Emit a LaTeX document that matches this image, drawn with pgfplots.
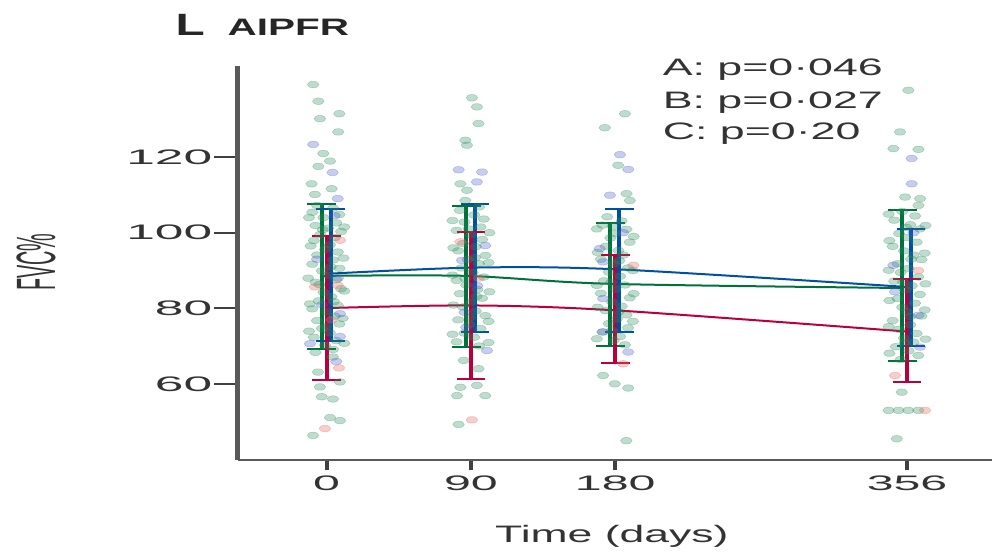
\documentclass[border=0pt]{standalone}
\usepackage{pgfplots}
\pgfplotsset{compat=1.18}
\usepackage{fontspec}
\setmainfont{Liberation Sans}
\definecolor{grn}{RGB}{0,112,60}
\definecolor{blu}{RGB}{0,80,160}
\definecolor{rd}{RGB}{185,0,60}
\definecolor{dotgrn}{RGB}{40,140,90}
\definecolor{dotblu}{RGB}{70,90,200}
\definecolor{dotred}{RGB}{230,110,100}
\pgfplotstableread{
x y
-8.4 139.1
-5.2 134.7
-4.2 130.1
7.9 131.4
7.2 126.6
-2.1 120.9
2.1 118.9
-5.2 117.5
-9.4 112.9
3.1 111.6
-7.3 110.1
-6 107.2
4 106.5
-9 105.4
8 104.8
-2 104
6 102.6
-7 101.9
1 101.2
9 100.3
-4 99.5
5 98.7
-8 97.9
2 96.8
-1 95.6
7 94.9
-6 94.1
4 92.8
-9 91.7
8 90.6
-3 89.9
1 88.8
6 87.6
-7 86.9
9 85.2
-2 84.3
3 83.1
-5 82.0
7 80.8
-9 79.9
0 79.1
5 78.0
-6 76.8
8 75.9
-3 74.7
2 73.6
-8 72.4
6 71.5
-1 70.3
4 69.2
-7 68.4
-11 104.0
11 101.5
-10 96.5
10.5 93.3
-11.5 88.0
11 84.6
-10.5 81.2
10 77.4
-11 74.0
11 70.8
-2.5 100.8
2.5 91.0
-4.5 86.3
4.5 81.8
-0.5 75.3
3.9 67.2
-5.4 63.2
8.3 60.6
-4.2 59.3
-3.1 56.7
3.9 56.1
2.1 51.2
8.3 50.4
-8.5 46.5
90.6 135.6
93.7 133.2
94.7 128.8
86.5 124.4
87.5 123.1
83.4 112.9
87.5 111.2
86.5 108.5
95 106.8
83 105.9
92 104.7
98 103.6
86 102.8
96 101.5
81 100.6
90 99.4
97 98.2
85 97.1
93 96.3
82 95.2
99 94.0
88 92.9
95 91.8
84 90.7
91 89.5
98 88.3
81 87.4
87 86.2
94 85.0
83 83.9
97 82.7
90 81.6
85 80.4
93 79.3
99 78.1
82 77.0
89 75.8
96 74.7
86 73.5
92 72.4
81 71.2
95 70.1
78.5 103.2
101.5 100.0
79 96.0
101 92.1
78.5 88.8
101.5 84.4
79 80.9
101 76.6
78.5 73.2
101 71.0
88.5 101.0
92.5 93.4
86.5 87.9
93.5 83.2
89.5 77.6
85.5 66.3
94.7 64.1
83.4 59.2
93.7 59.7
98.9 57.0
81.3 57.0
82.3 49.4
186 131.4
173.5 127.7
181.8 117.8
187 110.3
189.1 108.5
175 104.2
184 103.1
172 102.0
187 100.9
180 99.8
177 98.6
189 97.5
174 96.4
182 95.3
185 94.1
171 93.0
179 91.8
188 90.7
176 89.6
183 88.5
173 87.3
186 86.2
180 85.1
171 84.0
189 82.8
178 81.7
184 80.6
174 79.4
187 78.3
181 77.2
176 76.0
188 74.9
172 73.8
183 72.6
179 71.5
186 70.4
168.5 101.0
191.5 99.0
169 94.8
191 90.0
168.5 86.1
191.5 83.9
169 80.3
191 76.6
168.5 72.0
178.5 101.6
182.5 92.6
177.5 86.9
182 79.1
178 74.2
172.4 62.3
179.7 60.1
188.1 59.0
186.9 45.1
362.8 137.6
357.6 126.6
353.5 122.2
369.1 122.0
360.8 109.4
370.1 109.0
369.1 107.2
359 105.6
367 104.4
354 103.3
364 102.1
370 101.0
357 99.8
362 98.7
368 97.5
353 96.4
360 95.2
366 94.1
371 92.9
356 91.8
363 90.6
358 89.5
369 88.3
354 87.2
365 86.0
361 84.9
370 83.7
356 82.6
367 81.4
359 80.3
362 79.1
371 78.0
353 76.8
364 75.7
357 74.5
368 73.4
360 72.2
366 71.1
355 69.9
363 68.8
369 67.6
358 66.5
350.5 104.9
373.5 101.9
351 97.9
373 94.6
350.5 90.1
373.5 86.5
351 82.1
373 79.6
350.5 75.2
373.5 71.9
351 68.2
361.5 101.4
364.5 93.0
359.5 87.0
364 77.9
360.5 70.9
358.7 57.9
350.5 53.1
356.7 53.1
362.8 53.1
369 53.1
355.6 45.6
}\dotsgreen
\pgfplotstableread{
x y
-8.4 123.3
3.7 115.9
6.9 109
5 104.5
-6 93
7 88
-3 81
8.3 78.6
8.3 72.6
-10.4 70.7
6 66
82.3 116.6
96.9 116.0
93.7 113.4
98.9 96.6
84.4 92.7
94 86
86 79
100 68.9
87 75
182.9 120.6
188.1 116.7
176.7 109.9
170.3 95.8
172.4 92.3
172.4 82.6
172.4 73.8
188.1 68.5
185 100
364.9 119.6
364.9 112.9
353.5 91.4
369.1 78.2
370.1 69.8
354.5 84.4
366 100
}\dotsblue
\pgfplotstableread{
x y
8.3 98
-7.3 85.7
7 86.1
7.7 64.3
-1.1 48.3
3 77
83.4 97.6
90.6 50.6
95 88
191.3 91.4
184.9 65.4
369 90.0
354.5 62.3
373.2 53.1
}\dotsred
\pgfplotstableread{
x y ep em
-3 88.6 18.9 19.4
87 88.6 18.5 18.9
177 86.5 16.1 16.3
359 85.4 20.5 19.4
}\meangreen
\pgfplotstableread{
x y ep em
0 80.1 18.9 19.1
90 80.8 19.3 19.4
180 79.5 14.5 13.9
362 73.9 13.8 13.3
}\meanred
\pgfplotstableread{
x y ep em
2.5 89.2 17.1 17.9
92.5 90.8 16.7 16.9
182.5 90.3 16.0 16.4
364.5 85.6 15.5 15.4
}\meanblue
\begin{document}
\begin{tikzpicture}
\begin{axis}[
  at={(0,0)}, anchor=south west,
  scale only axis, width=376.85pt, height=197pt,
  xmin=-55.3, xmax=414.8, ymin=40, ymax=144,
  axis lines=left,
  axis line style={-, draw=black!65},
  x axis line style={line width=1.2pt},
  y axis line style={line width=2.5pt},
  xtick={0,90,180,362}, xticklabels={0,90,180,356},
  ytick={60,80,100,120},
  tick align=outside,
  xtick style={line width=2pt, draw=black!75, /pgfplots/major tick length=5pt},
  ytick style={line width=1pt, draw=black!75, /pgfplots/major tick length=12pt},
  /pgf/number format/assume math mode=true,
  tick label style={font=\fontsize{10.5}{12}\selectfont, text=black!80},
  xticklabel style={xscale=2.3},
  yticklabel style={xscale=2.45},
  xlabel={Time (days)},
  xlabel style={at={(axis description cs:0.496,-0.193)}, anchor=center,
    font=\fontsize{11.9}{14}\selectfont, text=black!80, xscale=1.87},
  ylabel={FVC\%},
  ylabel style={at={(axis description cs:-0.268,0.5025)}, anchor=center,
    font=\fontsize{9.9}{12}\selectfont, text=black!80, rotate=-90, xscale=2.8, rotate=90},
]
\addplot[only marks, mark=*, mark size=1.65pt,
  mark options={draw=dotgrn, fill=dotgrn, opacity=0.3, line width=0.3pt, xscale=1.75}]
  table[x=x,y=y] {\dotsgreen};
\addplot[only marks, mark=*, mark size=1.65pt,
  mark options={draw=dotblu, fill=dotblu, opacity=0.3, line width=0.3pt, xscale=1.75}]
  table[x=x,y=y] {\dotsblue};
\addplot[only marks, mark=*, mark size=1.65pt,
  mark options={draw=dotred, fill=dotred, opacity=0.34, line width=0.3pt, xscale=1.75}]
  table[x=x,y=y] {\dotsred};
% smooth mean curves
\addplot[color=grn, smooth, line width=1pt, mark=none] table[x=x, y=y] {\meangreen};
\addplot[color=blu, smooth, line width=1pt, mark=none] table[x=x, y=y] {\meanblue};
\addplot[color=rd, smooth, line width=1pt, mark=none] table[x=x, y=y] {\meanred};
% error bars
\addplot[color=grn, only marks, mark=*, mark size=0.1pt,
  error bars/.cd, y dir=both, y explicit,
  error bar style={line width=2pt, draw=grn},
  error mark options={rotate=90, line width=1pt, mark size=7.2pt, draw=grn}]
  table[x=x, y=y, y error plus=ep, y error minus=em] {\meangreen};
\addplot[color=blu, only marks, mark=*, mark size=0.1pt,
  error bars/.cd, y dir=both, y explicit,
  error bar style={line width=2pt, draw=blu},
  error mark options={rotate=90, line width=1pt, mark size=7.2pt, draw=blu}]
  table[x=x, y=y, y error plus=ep, y error minus=em] {\meanblue};
\addplot[color=rd, only marks, mark=*, mark size=0.1pt,
  error bars/.cd, y dir=both, y explicit,
  error bar style={line width=2pt, draw=rd},
  error mark options={rotate=90, line width=1pt, mark size=7.2pt, draw=rd}]
  table[x=x, y=y, y error plus=ep, y error minus=em] {\meanred};
\end{axis}
\node[anchor=base west, font=\bfseries\fontsize{15.4}{18}\selectfont, text=black!85, xscale=1.55, inner sep=0pt] at (-31.5pt,212pt) {L};
\node[anchor=base west, font=\bfseries\fontsize{11.9}{14}\selectfont, text=black!85, xscale=1.7, inner sep=0pt] at (-5.5pt,212pt) {AIPFR};
\node[anchor=base west, font=\fontsize{11.9}{14}\selectfont, text=black!80, xscale=1.88, inner sep=0pt] at (212pt,192.2pt) {A: p=0·046};
\node[anchor=base west, font=\fontsize{11.9}{14}\selectfont, text=black!80, xscale=1.88, inner sep=0pt] at (212pt,175.5pt) {B: p=0·027};
\node[anchor=base west, font=\fontsize{11.9}{14}\selectfont, text=black!80, xscale=1.88, inner sep=0pt] at (212pt,160.2pt) {C: p=0·20};
\pgfresetboundingbox
\path (-119pt,-45.5pt) rectangle (378pt,230pt);
\end{tikzpicture}
\end{document}
